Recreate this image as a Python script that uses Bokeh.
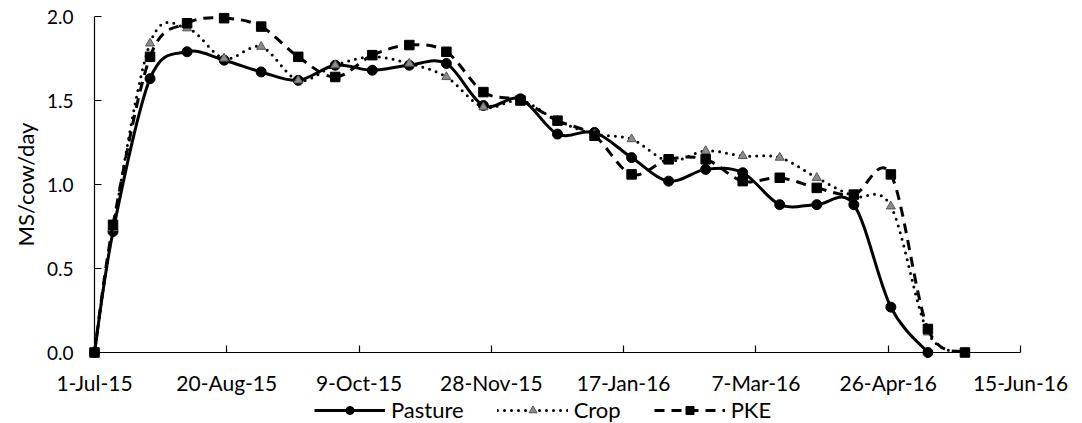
from datetime import date
import numpy as np
from bokeh.plotting import figure
from bokeh.layouts import column
from bokeh.models import ColumnDataSource, FixedTicker, Legend, LegendItem, Range1d
from bokeh.embed import file_html
from bokeh.resources import INLINE

# ---------------- data ----------------
sample_dates = ["2015-07-01", "2015-07-08", "2015-07-22", "2015-08-05", "2015-08-19",
                "2015-09-02", "2015-09-16", "2015-09-30", "2015-10-14", "2015-10-28",
                "2015-11-11", "2015-11-25", "2015-12-09", "2015-12-23", "2016-01-06",
                "2016-01-20", "2016-02-03", "2016-02-17", "2016-03-02", "2016-03-16",
                "2016-03-30", "2016-04-13", "2016-04-27", "2016-05-11", "2016-05-25"]
# Pasture has no value on the last sampling date
pasture = [0.00, 0.72, 1.63, 1.79, 1.74, 1.67, 1.62, 1.71, 1.68, 1.71, 1.72, 1.47, 1.51,
           1.30, 1.31, 1.16, 1.02, 1.09, 1.07, 0.88, 0.88, 0.88, 0.27, 0.00]
crop = [0.00, 0.74, 1.84, 1.93, 1.75, 1.82, 1.62, 1.71, 1.76, 1.72, 1.64, 1.46, 1.50,
        1.38, 1.30, 1.27, 1.14, 1.20, 1.17, 1.16, 1.04, 0.93, 0.87, 0.12, 0.00]
pke = [0.00, 0.76, 1.76, 1.96, 1.99, 1.94, 1.76, 1.64, 1.77, 1.83, 1.79, 1.55, 1.50,
       1.38, 1.29, 1.06, 1.15, 1.15, 1.02, 1.04, 0.98, 0.94, 1.06, 0.14, 0.00]
tick_days = [0, 50, 100, 150, 200, 250, 300, 350]
tick_labels = ["1-Jul-15", "20-Aug-15", "9-Oct-15", "28-Nov-15", "17-Jan-16",
               "7-Mar-16", "26-Apr-16", "15-Jun-16"]
y_ticks = [0.0, 0.5, 1.0, 1.5, 2.0]

start = date(2015, 7, 1)
days = [(date.fromisoformat(d) - start).days for d in sample_dates]

FONT = "Lato"

p = figure(frame_width=926, frame_height=336, min_border_left=94, min_border_right=52,
           min_border_top=16, min_border_bottom=42,
           x_range=(0, 350), y_range=(0, 2.0),
           output_backend="svg", toolbar_location=None, tools="")
p.outline_line_color = None
p.xgrid.visible = False
p.ygrid.visible = False
p.background_fill_color = "white"
p.border_fill_color = "white"

# axes
p.xaxis.ticker = FixedTicker(ticks=tick_days)
p.xaxis.major_label_overrides = {d: l for d, l in zip(tick_days, tick_labels)}
p.yaxis.ticker = FixedTicker(ticks=y_ticks)
p.yaxis.major_label_overrides = {v: f"{v:.1f}" for v in y_ticks}
for ax in (p.xaxis[0], p.yaxis[0]):
    ax.axis_line_color = "black"
    ax.axis_line_width = 1.2
    ax.major_tick_line_color = "black"
    ax.major_tick_line_width = 1.2
    ax.major_tick_in = 7
    ax.major_tick_out = 0
    ax.minor_tick_line_color = None
    ax.major_label_text_font = FONT
    ax.major_label_text_color = "black"
p.xaxis.major_label_text_font_size = "21px"
p.yaxis.major_label_text_font_size = "19px"
p.xaxis.major_label_standoff = 17
p.yaxis.major_label_standoff = 21
p.yaxis.axis_label = "MS/cow/day"
p.yaxis.axis_label_text_font = FONT
p.yaxis.axis_label_text_font_size = "22px"
p.yaxis.axis_label_text_font_style = "normal"
p.yaxis.axis_label_text_color = "black"
p.yaxis.axis_label_standoff = 5

# small strip below the chart that only carries the legend
leg_fig = figure(width=1072, height=26, min_border=0,
                 x_range=Range1d(-2, -1), y_range=Range1d(0, 1),
                 x_axis_location=None, y_axis_location=None,
                 output_backend="svg", toolbar_location=None, tools="")
leg_fig.outline_line_color = None
leg_fig.xgrid.visible = False
leg_fig.ygrid.visible = False


def smooth(xs, ys):
    xs = np.asarray(xs, float)
    ys = np.asarray(ys, float)
    xp = np.concatenate([[xs[0]], xs, [xs[-1]]])
    yp = np.concatenate([[ys[0]], ys, [ys[-1]]])
    i = np.arange(len(xs) - 1)
    return dict(
        x0=xp[i + 1], y0=yp[i + 1], x1=xp[i + 2], y1=yp[i + 2],
        cx0=xp[i + 1] + (xp[i + 2] - xp[i]) / 6, cy0=yp[i + 1] + (yp[i + 2] - yp[i]) / 6,
        cx1=xp[i + 2] - (xp[i + 3] - xp[i + 1]) / 6, cy1=yp[i + 2] - (yp[i + 3] - yp[i + 1]) / 6,
    )


series = [
    ("Pasture", pasture, dict(line_dash="solid"), dict(marker="circle", size=10,
                                                      fill_color="black", line_color="black")),
    ("Crop", crop, dict(line_dash="0 7", line_cap="round"),
     dict(marker="triangle", size=9, fill_color="#8c8c8c", line_color="#555555", line_width=1)),
    ("PKE", pke, dict(line_dash="10 7"), dict(marker="square", size=9.5,
                                             fill_color="black", line_color="black")),
]

items = []
for name, vals, lstyle, mstyle in series:
    xs = days[:len(vals)]
    bsrc = ColumnDataSource(smooth(xs, vals))
    p.bezier(x0="x0", y0="y0", x1="x1", y1="y1", cx0="cx0", cy0="cy0", cx1="cx1", cy1="cy1",
             source=bsrc, line_color="black", line_width=3, level="overlay", **lstyle)
    src = ColumnDataSource(dict(x=xs, y=vals))
    p.scatter("x", "y", source=src, level="overlay", **mstyle)
    # legend-only renderers (their data fall outside the strip's ranges)
    l_line = leg_fig.line("x", "y", source=src, line_color="black", line_width=3, **lstyle)
    l_sc = leg_fig.scatter("x", "y", source=src, **mstyle)
    items.append(LegendItem(label=name, renderers=[l_line, l_sc]))

legend = Legend(items=items, orientation="horizontal", location=(220, 0),
                glyph_width=71, glyph_height=20, label_standoff=6, spacing=33,
                padding=0, margin=0, border_line_color=None, background_fill_alpha=0,
                label_text_font=FONT, label_text_font_size="22px", label_text_color="black")
leg_fig.add_layout(legend, "center")

layout = column(p, leg_fig, spacing=0)
open("out.html", "w").write(file_html(layout, INLINE))
